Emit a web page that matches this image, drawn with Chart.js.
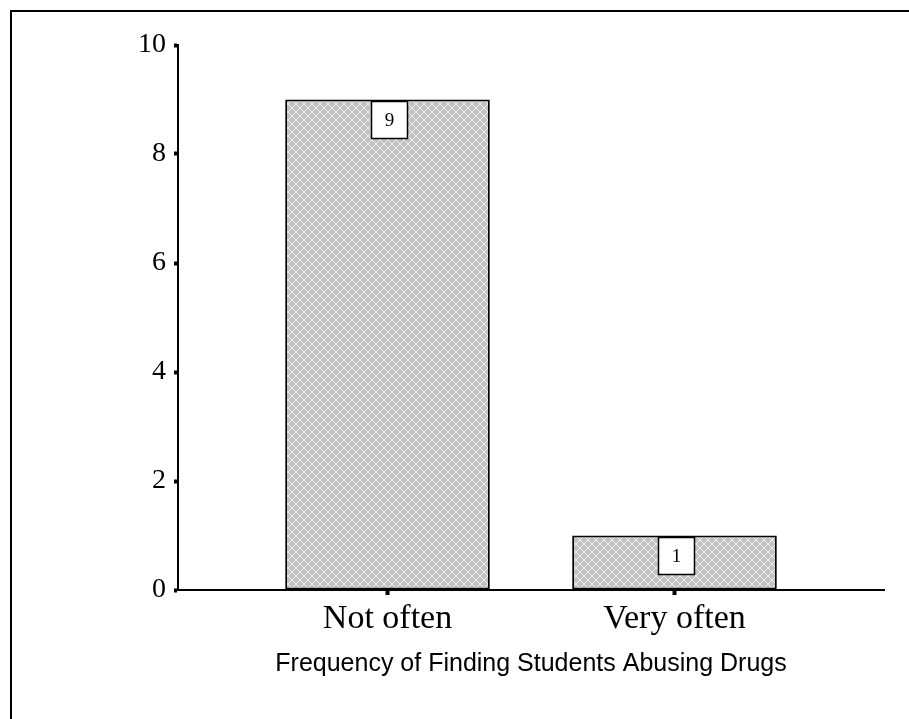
<!DOCTYPE html>
<html>
<head>
<meta charset="utf-8">
<script src="https://cdn.jsdelivr.net/npm/chart.js@4/dist/chart.umd.min.js"></script>
<style>
  html, body { margin: 0; padding: 0; background: #fff; }
  #wrap { width: 909px; height: 719px; position: relative; }
</style>
</head>
<body>
<div id="wrap"><canvas id="c" width="909" height="719"></canvas></div>
<script>
// Survey responses: how often students are found abusing drugs
const categories = ['Not often', 'Very often'];
const counts = [9, 1];
const yTicks = [0, 2, 4, 6, 8, 10];
const axisTitle = 'Frequency of Finding Students Abusing Drugs';

// Grey cross-hatch fill for the bars
function hatchPattern() {
  const t = document.createElement('canvas');
  t.width = 8; t.height = 8;
  const g = t.getContext('2d');
  g.fillStyle = '#c2c2c2';
  g.fillRect(0, 0, 8, 8);
  g.strokeStyle = '#eeeeee';
  g.lineWidth = 1;
  g.beginPath();
  g.moveTo(0, 0); g.lineTo(8, 8);
  g.moveTo(8, 0); g.lineTo(0, 8);
  g.stroke();
  return g.createPattern(t, 'repeat');
}
const ctx = document.getElementById('c').getContext('2d');

// Outer frame (top and left edges)
const framePlugin = {
  id: 'frame',
  beforeDraw(chart) {
    const c = chart.ctx;
    c.save();
    c.fillStyle = '#fff';
    c.fillRect(0, 0, chart.width, chart.height);
    c.strokeStyle = '#000';
    c.lineWidth = 2;
    c.beginPath();
    c.moveTo(11, chart.height);
    c.lineTo(11, 11);
    c.lineTo(chart.width, 11);
    c.stroke();
    c.restore();
  }
};

// Boxed value labels at the top of each bar
const valueBoxes = {
  id: 'valueBoxes',
  afterDatasetsDraw(chart) {
    const c = chart.ctx;
    const meta = chart.getDatasetMeta(0);
    c.save();
    meta.data.forEach((bar, i) => {
      const w = 36, h = 37;
      const x = bar.x + 2 - w / 2;
      const y = bar.y + 2;
      c.fillStyle = '#fff';
      c.fillRect(x, y, w, h);
      c.strokeStyle = '#000';
      c.lineWidth = 1.5;
      c.strokeRect(x, y, w, h);
      c.fillStyle = '#000';
      c.font = '19px "Liberation Serif", "Times New Roman", serif';
      c.textAlign = 'center';
      c.textBaseline = 'middle';
      c.fillText(String(counts[i]), x + w / 2, y + h / 2 + 1);
    });
    c.restore();
  }
};

new Chart(ctx, {
  type: 'bar',
  data: {
    datasets: [{
      data: counts.map((v, i) => ({ x: i, y: v })),
      backgroundColor: hatchPattern(),
      borderColor: '#000',
      borderWidth: 2,
      borderSkipped: false,
      barPercentage: 0.713,
      categoryPercentage: 1
    }]
  },
  options: {
    responsive: false,
    animation: false,
    events: [],
    layout: { padding: { left: 0, right: 25, top: 45, bottom: 0 } },
    plugins: { legend: { display: false }, tooltip: { enabled: false } },
    scales: {
      x: {
        type: 'linear',
        offset: false,
        min: -0.73,
        max: 1.73,
        afterBuildTicks(scale) { scale.ticks = categories.map((_, i) => ({ value: i })); },
        afterFit(scale) { scale.height = 129; },
        border: { display: true, color: '#000', width: 2 },
        grid: { offset: false, drawOnChartArea: false, color: '#000', tickLength: 5, tickWidth: 4 },
        ticks: {
          color: '#000',
          padding: 4,
          font: { family: '"Liberation Serif", "Times New Roman", serif', size: 34 },
          callback: v => categories[v] ?? ''
        },
        title: {
          display: true,
          text: axisTitle,
          color: '#000',
          font: { family: '"Liberation Sans", Arial, sans-serif', size: 25 },
          padding: { top: 4, bottom: 40 }
        }
      },
      y: {
        min: 0,
        max: 10,
        afterBuildTicks(scale) { scale.ticks = yTicks.map(v => ({ value: v })); },
        afterFit(scale) { scale.width = 178; },
        border: { display: true, color: '#000', width: 2 },
        grid: { drawOnChartArea: false, color: '#000', tickLength: 4, tickWidth: 4 },
        ticks: {
          color: '#000',
          padding: 8,
          font: { family: '"Liberation Serif", "Times New Roman", serif', size: 28 }
        }
      }
    }
  },
  plugins: [framePlugin, valueBoxes]
});
</script>
</body>
</html>
